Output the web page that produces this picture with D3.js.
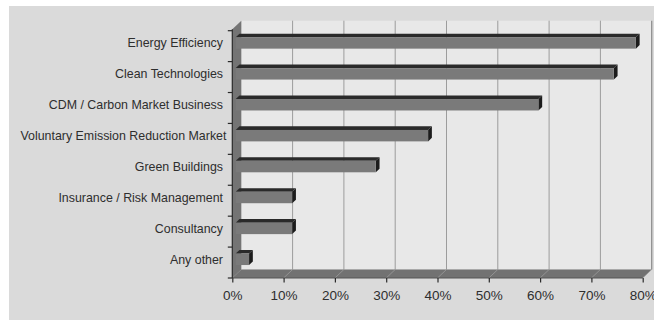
<!DOCTYPE html>
<html>
<head>
<meta charset="utf-8">
<script src="https://cdn.jsdelivr.net/npm/d3@7"></script>
<style>
  html, body { margin: 0; padding: 0; background: #ffffff; }
  svg { display: block; }
  text { font-family: "Liberation Sans", Arial, Helvetica, sans-serif; fill: #2e2e2e; }
</style>
</head>
<body>
<svg id="chart" width="654" height="320"></svg>
<script>
// Survey results: share of respondents per business area
const categories = [
  "Energy Efficiency",
  "Clean Technologies",
  "CDM / Carbon Market Business",
  "Voluntary Emission Reduction Market",
  "Green Buildings",
  "Insurance / Risk Management",
  "Consultancy",
  "Any other"
];
const values = [78, 73.7, 59, 37.5, 27.3, 11, 11, 2.6];
const tickValues = [0, 10, 20, 30, 40, 50, 60, 70, 80];
const tickLabels = ["0%", "10%", "20%", "30%", "40%", "50%", "60%", "70%", "80%"];

const svg = d3.select("#chart");

// projection of the depth axis (back plane offset)
const DX = 9, DY = -8.5;
// bars sit between these depth fractions
const Z0 = 0.38, Z1 = 0.8;

const x = d3.scaleLinear().domain([0, 80]).range([232.3, 642.7]);
const y = d3.scaleBand().domain(categories).range([30.7, 278])
  .paddingInner(0.63).paddingOuter(0.315);

const x0 = x(0), x1 = x(80);
const yTop = 30.7 - 1.5, yBot = 278;

// outer panel
svg.append("rect").attr("x", 9).attr("y", 6).attr("width", 645).attr("height", 314)
  .attr("fill", "#dadada");

// back wall
svg.append("rect")
  .attr("x", x0 + DX).attr("y", yTop + DY)
  .attr("width", x1 - x0).attr("height", yBot - yTop)
  .attr("fill", "#e8e8e8");
svg.append("line")
  .attr("x1", x1 + DX).attr("x2", x1 + DX)
  .attr("y1", yTop + DY).attr("y2", yBot + DY)
  .attr("stroke", "#8a8a8a").attr("stroke-width", 1.2);

// gridlines on back wall
svg.append("g").selectAll("line").data(tickValues.slice(1, -1)).join("line")
  .attr("x1", d => x(d) + DX).attr("x2", d => x(d) + DX)
  .attr("y1", yTop + DY).attr("y2", yBot + DY)
  .attr("stroke", "#9c9c9c").attr("stroke-width", 1);

// floor
const floorPts = [[x0, yBot], [x1, yBot], [x1 + DX, yBot + DY], [x0 + DX, yBot + DY]];
svg.append("polygon").attr("points", floorPts.map(p => p.join(",")).join(" "))
  .attr("fill", "#727272");
svg.append("g").selectAll("line").data(tickValues.slice(1)).join("line")
  .attr("x1", d => x(d) + DX).attr("y1", yBot + DY)
  .attr("x2", d => x(d)).attr("y2", yBot)
  .attr("stroke", "#9a9a9a").attr("stroke-width", 0.8);
svg.append("line").attr("x1", x0).attr("x2", x1).attr("y1", yBot).attr("y2", yBot)
  .attr("stroke", "#555").attr("stroke-width", 1);

// left side wall
const wallPts = [[x0, yTop], [x0 + DX, yTop + DY], [x0 + DX, yBot + DY], [x0, yBot]];
svg.append("polygon").attr("points", wallPts.map(p => p.join(",")).join(" "))
  .attr("fill", "#747474");

// bars (front face, top face, end face)
const bars = svg.append("g").selectAll("g").data(categories.map((c, i) => ({ c, v: values[i] })))
  .join("g");
const fx = z => z * DX, fy = z => z * DY;
bars.append("polygon") // top face
  .attr("points", d => {
    const xa = x(0) + fx(Z0), xb = x(d.v) + fx(Z0), yt = y(d.c) + fy(Z0);
    const ox = fx(Z1) - fx(Z0), oy = fy(Z1) - fy(Z0);
    return [[xa, yt], [xb, yt], [xb + ox, yt + oy], [xa + ox, yt + oy]].map(p => p.join(",")).join(" ");
  })
  .attr("fill", "#2a2a2a");
bars.append("polygon") // end face
  .attr("points", d => {
    const xb = x(d.v) + fx(Z0), yt = y(d.c) + fy(Z0), yb = yt + y.bandwidth();
    const ox = fx(Z1) - fx(Z0), oy = fy(Z1) - fy(Z0);
    return [[xb, yt], [xb + ox, yt + oy], [xb + ox, yb + oy], [xb, yb]].map(p => p.join(",")).join(" ");
  })
  .attr("fill", "#1c1c1c");
bars.append("rect") // front face
  .attr("x", x(0) + fx(Z0))
  .attr("y", d => y(d.c) + fy(Z0))
  .attr("width", d => x(d.v) - x(0))
  .attr("height", y.bandwidth())
  .attr("fill", "#7a7a7a");

// category axis: line with ticks at band boundaries
const step = y.step();
const bounds = d3.range(categories.length + 1).map(i => y.range()[0] + i * step);
svg.append("line").attr("x1", x0).attr("x2", x0).attr("y1", yTop).attr("y2", yBot)
  .attr("stroke", "#2a2a2a").attr("stroke-width", 1.2);
svg.append("g").selectAll("line").data(bounds).join("line")
  .attr("x1", x0 - 4.5).attr("x2", x0).attr("y1", d => d).attr("y2", d => d)
  .attr("stroke", "#2a2a2a").attr("stroke-width", 1.2);

// category labels, right aligned; long labels are kept inside the left margin
const labelRight = 223, labelMinLeft = 20.5;
svg.append("g").selectAll("text").data(categories).join("text")
  .attr("y", d => y(d) + fy(Z0) + y.bandwidth() / 2)
  .attr("dy", "0.35em")
  .attr("font-size", 12.4)
  .text(d => d)
  .each(function () {
    const w = this.getComputedTextLength();
    const left = Math.max(labelMinLeft, labelRight - w);
    d3.select(this).attr("x", left);
  });

// value axis
const xAxis = d3.axisBottom(x)
  .tickValues(tickValues)
  .tickFormat((d, i) => tickLabels[i])
  .tickSize(4.5)
  .tickPadding(7.5);
const gx = svg.append("g").attr("transform", `translate(0,${yBot})`).call(xAxis);
gx.select(".domain").remove();
gx.selectAll(".tick line").attr("stroke", "#2a2a2a").attr("stroke-width", 1.2);
gx.selectAll(".tick text")
  .attr("font-size", 13.5)
  .attr("font-family", "'Liberation Sans', Arial, sans-serif")
  .attr("fill", "#2e2e2e");
</script>
</body>
</html>
